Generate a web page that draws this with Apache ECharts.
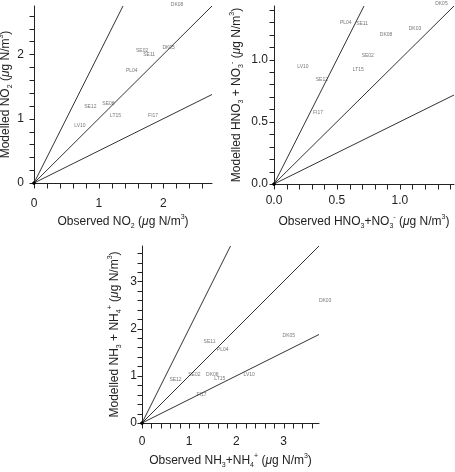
<!DOCTYPE html>
<html>
<head>
<meta charset="utf-8">
<script src="https://cdn.jsdelivr.net/npm/echarts@6/dist/echarts.min.js"></script>
<style>
html, body { margin: 0; padding: 0; background: #fff; }
#chart { width: 455px; height: 472px; }
</style>
</head>
<body>
<div id="chart"></div>
<script>
// NO2 panel
var no2Sites = ['DK08', 'SE02', 'SE11', 'DK05', 'PL04', 'SE12', 'SE08', 'LT15', 'FI17', 'LV10'];
var no2Obs   = [2.21, 1.67, 1.78, 2.08, 1.51, 0.87, 1.15, 1.26, 1.84, 0.71];
var no2Mod   = [2.77, 2.05, 2.00, 2.10, 1.74, 1.18, 1.23, 1.04, 1.04, 0.89];

// HNO3 + NO3- panel
var no3Sites = ['DK05', 'PL04', 'SE11', 'DK08', 'DK03', 'SE02', 'LT15', 'LV10', 'SE12', 'FI17'];
var no3Obs   = [1.33, 0.57, 0.70, 0.89, 1.12, 0.745, 0.67, 0.23, 0.38, 0.35];
var no3Mod   = [1.45, 1.30, 1.29, 1.20, 1.25, 1.03, 0.92, 0.94, 0.835, 0.574];

// NH3 + NH4+ panel
var nh4Sites = ['DK03', 'DK05', 'SE11', 'PL04', 'SE02', 'DK08', 'LT15', 'LV10', 'SE12', 'FI17'];
var nh4Obs   = [3.88, 3.11, 1.43, 1.71, 1.11, 1.49, 1.65, 2.27, 0.71, 1.26];
var nh4Mod   = [2.60, 1.86, 1.73, 1.55, 1.03, 1.03, 0.94, 1.02, 0.91, 0.60];

// reference lines y = k*x
var ratios = [2, 1, 0.5];

var panels = [
  { sites: no2Sites, obs: no2Obs, mod: no2Mod, max: 2.75, step: 0.2, major: 1, dec: 0,
    grid: { left: 34, top: 6, width: 178, height: 177 },
    xLabelGap: 15, yLabelGap: 10, xNameGap: 31, yNameGap: 19,
    xName: '{t|Observed NO}{sub|2}{t| (}{mu|μ}{t|g N/m}{sup|3}{t|)}',
    yName: '{t|Modelled NO}{sub|2}{t| (}{mu|μ}{t|g N/m}{sup|3}{t|)}' },
  { sites: no3Sites, obs: no3Obs, mod: no3Mod, max: 1.43, step: 0.1, major: 0.5, dec: 1,
    grid: { left: 274, top: 6, width: 180, height: 178 },
    xLabelGap: 11, yLabelGap: 6, xNameGap: 30, yNameGap: 29,
    xName: '{t|Observed HNO}{sub|3}{t|+NO}{sub|3}{sup|-}{t| (}{mu|μ}{t|g N/m}{sup|3}{t|)}',
    yName: '{t|Modelled HNO}{sub|3}{t| + NO}{sub|3}{sup|-}{t| (}{mu|μ}{t|g N/m}{sup|3}{t|)}' },
  { sites: nh4Sites, obs: nh4Obs, mod: nh4Mod, max: 3.75, step: 0.2, major: 1, dec: 0,
    grid: { left: 142, top: 246, width: 177, height: 177 },
    xLabelGap: 13, yLabelGap: 5, xNameGap: 30, yNameGap: 19,
    xName: '{t|Observed NH}{sub|3}{t|+NH}{sub|4}{sup|+}{t| (}{mu|μ}{t|g N/m}{sup|3}{t|)}',
    yName: '{t|Modelled NH}{sub|3}{t| + NH}{sub|4}{sup|+}{t| (}{mu|μ}{t|g N/m}{sup|3}{t|)}' }
];

var TICK_LEN = 5;

var richName = {
  t:   { fontSize: 12, lineHeight: 16, color: '#222' },
  mu:  { fontSize: 12, lineHeight: 16, color: '#222', fontStyle: 'italic' },
  sub: { fontSize: 7, lineHeight: 8, verticalAlign: 'bottom', color: '#222' },
  sup: { fontSize: 7, lineHeight: 8, verticalAlign: 'top', color: '#222' }
};

function majorFmt(p) {
  return function (v) {
    var q = v / p.major;
    if (Math.abs(q - Math.round(q)) > 1e-6) return '';
    return v.toFixed(p.dec);
  };
}

function axisFor(p, i, isX) {
  return {
    type: 'value', gridIndex: i, min: 0, max: p.max, interval: p.step,
    name: isX ? p.xName : p.yName,
    nameLocation: 'middle',
    nameGap: isX ? p.xNameGap : p.yNameGap,
    nameTextStyle: { fontFamily: 'Liberation Sans', fontSize: 12, lineHeight: 16, color: '#222', rich: richName },
    axisLine: { show: true, onZero: false, lineStyle: { color: '#222', width: 1 } },
    axisTick: { show: false },
    axisLabel: { show: true, fontFamily: 'Liberation Sans', fontSize: 12, color: '#222',
                 margin: isX ? p.xLabelGap : p.yLabelGap, formatter: majorFmt(p) },
    splitLine: { show: false }
  };
}

// tick marks drawn through the axis scale (value, 0 = x axis / 1 = y axis)
function tickData(p) {
  var out = [];
  var n = Math.floor(p.max / p.step + 1e-6);
  for (var k = 0; k <= n; k++) {
    var v = +(k * p.step).toFixed(4);
    out.push([v, 0]);
    out.push([v, 1]);
  }
  return out;
}

function renderTick(params, api) {
  var v = api.value(0);
  var isY = api.value(1) === 1;
  var pt = isY ? api.coord([0, v]) : api.coord([v, 0]);
  var x = Math.round(pt[0]) + 0.5, y = Math.round(pt[1]) + 0.5;
  return {
    type: 'line',
    shape: isY ? { x1: x - TICK_LEN, y1: y, x2: x, y2: y } : { x1: x, y1: y, x2: x, y2: y + TICK_LEN },
    style: { stroke: '#222', lineWidth: 1 }
  };
}

var grids = [], xAxes = [], yAxes = [], series = [];
panels.forEach(function (p, i) {
  grids.push(Object.assign({ outerBoundsMode: 'none', containLabel: false }, p.grid));
  xAxes.push(axisFor(p, i, true));
  yAxes.push(axisFor(p, i, false));

  ratios.forEach(function (k) {
    var end = k >= 1 ? [p.max / k, p.max] : [p.max, p.max * k];
    series.push({
      type: 'line', xAxisIndex: i, yAxisIndex: i, silent: true, animation: false,
      showSymbol: true, symbol: 'none',
      lineStyle: { color: '#333', width: 1 },
      data: [{ value: [0, 0], symbol: 'circle', symbolSize: 3, itemStyle: { color: '#000' } }, end]
    });
  });

  series.push({
    type: 'custom', xAxisIndex: i, yAxisIndex: i, silent: true, animation: false, clip: false,
    renderItem: renderTick,
    data: tickData(p)
  });

  series.push({
    type: 'scatter', xAxisIndex: i, yAxisIndex: i, clip: false, animation: false,
    symbolSize: 0,
    label: { show: true, position: 'inside', formatter: '{b}', fontFamily: 'Liberation Sans', fontSize: 5, color: '#555' },
    data: p.sites.map(function (s, j) { return { name: s, value: [p.obs[j], p.mod[j]] }; })
  });
});

var chart = echarts.init(document.getElementById('chart'), null, { renderer: 'canvas' });
chart.setOption({
  animation: false,
  backgroundColor: '#fff',
  grid: grids,
  xAxis: xAxes,
  yAxis: yAxes,
  series: series
});
</script>
</body>
</html>
